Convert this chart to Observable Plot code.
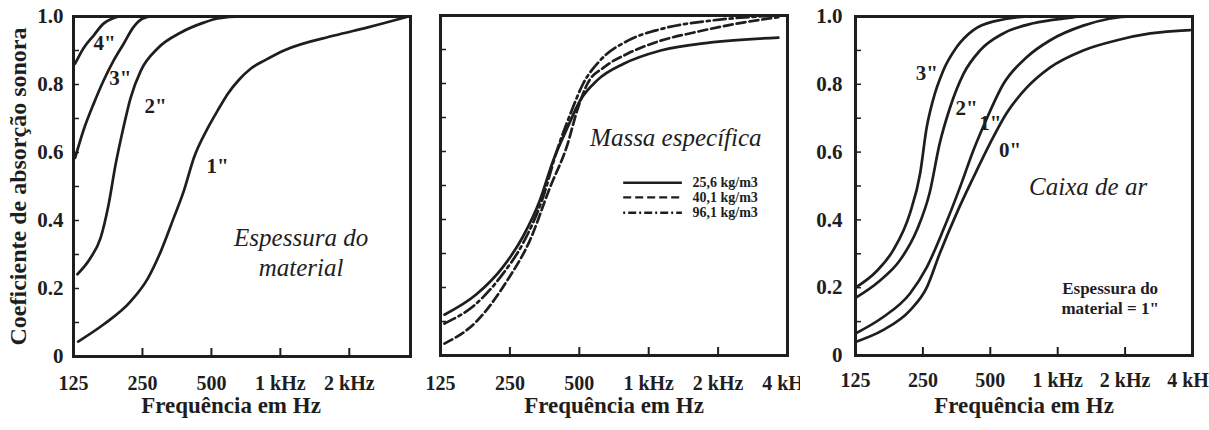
<!DOCTYPE html>
<html>
<head>
<meta charset="utf-8">
<script src="https://cdn.jsdelivr.net/npm/d3@7"></script>
<script src="https://cdn.jsdelivr.net/npm/@observablehq/plot@0.6"></script>
<style>
  html, body { margin: 0; padding: 0; background: #fff; }
  #wrap { position: relative; width: 1209px; height: 430px; overflow: hidden; background: #fff; }
  .panel { position: absolute; top: 0; overflow: hidden; }
  .panel svg { overflow: hidden; }
</style>
</head>
<body>
<div id="wrap">
  <div class="panel" id="p1" style="left:0px;width:415px;height:430px"></div>
  <div class="panel" id="p2" style="left:420px;width:380px;height:430px"></div>
  <div class="panel" id="p3" style="left:800px;width:409px;height:430px"></div>
</div>
<script>
// ---------- axis ticks ----------
const freqTicks = [125, 250, 500, 1000, 2000, 4000];
const freqTickLabels = ["125", "250", "500", "1 kHz", "2 kHz", "4 kHz"];
const freqInnerTicks = [250, 500, 1000, 2000];
const yLabelTicks = [0, 0.2, 0.4, 0.6, 0.8, 1.0];
const yLabelText = ["0", "0.2", "0.4", "0.6", "0.8", "1.0"];
const yMinorTicks = [0.1, 0.2, 0.3, 0.4, 0.5, 0.6, 0.7, 0.8, 0.9];

const yTitle = "Coeficiente de absorção sonora";
const xTitle = "Frequência em Hz";

// ---------- panel 1: Espessura do material ----------
const esp1 = [[131,0.044],[169,0.094],[222,0.162],[264,0.23],[301,0.31],[342,0.407],[379,0.487],[419,0.584],[483,0.673],[532,0.723],[590,0.773],[660,0.814],[744,0.847],[866,0.873],[1037,0.9],[1720,0.944],[2410,0.968],[3630,1.0]];
const esp2 = [[130,0.242],[148,0.289],[164,0.348],[178,0.448],[191,0.566],[205,0.664],[222,0.761],[246,0.841],[291,0.906],[368,0.953],[463,0.982],[532,0.994],[673,1.0],[3650,1.0]];
const esp3 = [[127,0.584],[138,0.664],[153,0.743],[169,0.811],[187,0.87],[207,0.92],[228,0.968],[251,0.994],[275,1.0],[3650,1.0]];
const esp4 = [[127,0.861],[138,0.906],[153,0.944],[169,0.979],[185,0.994],[200,1.0],[3650,1.0]];
const espLabels = ['1"', '2"', '3"', '4"'];
const espLabelPos = [[532,0.56],[285,0.735],[200,0.818],[171,0.92]];
const espNote = "Espessura do\nmaterial";
const espNotePos = [1232, 0.308];

// ---------- panel 2: Massa específica ----------
const massa256 = [[130,0.12],[179,0.18],[233,0.26],[285,0.35],[337,0.456],[385,0.573],[444,0.67],[504,0.75],[599,0.81],[779,0.858],[1127,0.897],[1864,0.921],[3650,0.935]];
const massa401 = [[130,0.035],[179,0.10],[243,0.22],[305,0.338],[373,0.494],[444,0.62],[489,0.72],[543,0.8],[638,0.847],[812,0.888],[1127,0.926],[1570,0.95],[2600,0.98],[3650,0.995]];
const massa961 = [[130,0.094],[179,0.153],[233,0.24],[285,0.33],[348,0.465],[400,0.603],[457,0.71],[520,0.8],[616,0.868],[812,0.926],[1127,0.96],[1864,0.985],[3650,1.0]];
const massaLegend = ["25,6 kg/m3", "40,1 kg/m3", "96,1 kg/m3"];
const massaLegendY = [0.508, 0.465, 0.42];
const massaLegendX = [779, 1400, 1549];
const massaNote = "Massa específica";
const massaNotePos = [1311, 0.64];

// ---------- panel 3: Caixa de ar ----------
const caixa3 = [[125,0.2],[156,0.25],[184,0.31],[219,0.42],[243,0.537],[260,0.673],[277,0.752],[308,0.84],[354,0.91],[420,0.96],[513,0.985],[779,1.0],[3950,1.0]];
const caixa2 = [[125,0.17],[160,0.22],[197,0.28],[235,0.37],[268,0.48],[297,0.625],[330,0.73],[379,0.83],[450,0.9],[571,0.95],[779,0.98],[1100,0.995],[1300,1.0],[3950,1.0]];
const caixa1 = [[125,0.065],[165,0.112],[219,0.183],[260,0.26],[308,0.37],[366,0.496],[420,0.605],[483,0.70],[571,0.8],[727,0.88],[926,0.93],[1300,0.973],[2170,1.0],[3950,1.0]];
const caixa0 = [[125,0.04],[165,0.074],[219,0.133],[260,0.2],[297,0.3],[354,0.42],[420,0.525],[498,0.625],[590,0.714],[727,0.79],[926,0.85],[1300,0.9],[1840,0.93],[2590,0.95],[3900,0.96]];
const caixaLabels = ['3"', '2"', '1"', '0"'];
const caixaLabelPos = [[260,0.832],[392,0.729],[500,0.684],[612,0.605]];
const caixaNote = "Caixa de ar";
const caixaNotePos = [1367, 0.496];
const caixaNote2 = 'Espessura do\nmaterial = 1"';
const caixaNote2Pos = [1715, 0.171];

// ---------- styling ----------
const INK = "#1e1e1e";
const SERIF = "Liberation Serif";
const lineStyle = {stroke: INK, strokeWidth: 2.7, curve: "monotone-x", x: d => d[0], y: d => d[1]};

function commonMarks(opts) {
  const m = [
    Plot.frame({stroke: INK, strokeWidth: 3}),
    Plot.axisX({ticks: freqInnerTicks, tickSize: -8, fill: "none", label: null, stroke: INK, strokeWidth: 2}),
    Plot.axisY({ticks: yMinorTicks, tickSize: -6, fill: "none", label: null, stroke: INK, strokeWidth: 1.5}),
    Plot.axisX({
      ticks: opts.xLabelTicks, tickSize: 0, tickPadding: opts.xPad, label: null,
      tickFormat: d => freqTickLabels[freqTicks.indexOf(d)],
      fontSize: 20, fontFamily: SERIF, fontWeight: "bold", fill: INK
    }),
    Plot.text([xTitle], {frameAnchor: "bottom", dy: opts.titleDy, dx: opts.titleDx || 0, fontSize: 23, fontFamily: SERIF, fontWeight: "bold", fill: INK})
  ];
  if (opts.yLabels) {
    m.push(Plot.axisY({
      ticks: yLabelTicks, tickSize: 0, tickPadding: opts.yPad, label: null,
      tickFormat: d => yLabelText[yLabelTicks.indexOf(d)],
      fontSize: 21, fontFamily: SERIF, fontWeight: "bold", fill: INK
    }));
  }
  return m;
}

// Panel 1
const plot1 = Plot.plot({
  width: 415, height: 430,
  marginLeft: 73, marginRight: 5, marginTop: 16, marginBottom: 74,
  x: {type: "log", domain: [125, 3700]},
  y: {domain: [0, 1]},
  style: {background: "transparent", color: INK},
  marks: [
    ...commonMarks({xLabelTicks: [125, 250, 500, 1000, 2000], yLabels: true, yPad: 10, titleDx: -11, titleDy: 56, xPad: 19}),
    Plot.line(esp1, lineStyle),
    Plot.line(esp2, lineStyle),
    Plot.line(esp3, lineStyle),
    Plot.line(esp4, lineStyle),
    Plot.text(espLabels, {x: (d, i) => espLabelPos[i][0], y: (d, i) => espLabelPos[i][1], text: d => d, fontSize: 21, fontFamily: SERIF, fontWeight: "bold", fill: INK}),
    Plot.text([espNote], {x: espNotePos[0], y: espNotePos[1], fontSize: 25, fontFamily: SERIF, fontStyle: "italic", fill: INK, lineHeight: 1.2}),
    Plot.text([yTitle], {frameAnchor: "left", textAnchor: "middle", rotate: -90, dx: -55, fontSize: 24, fontFamily: SERIF, fontWeight: "bold", fill: INK})
  ]
});
document.getElementById("p1").appendChild(plot1);

// Panel 2
const legendStyles = [
  {},
  {strokeDasharray: "8,4"},
  {strokeDasharray: "2,3,8,3"}
];
const plot2 = Plot.plot({
  width: 380, height: 430,
  marginLeft: 20, marginRight: 13, marginTop: 15, marginBottom: 75,
  x: {type: "log", domain: [125, 4000]},
  y: {domain: [0, 1]},
  style: {background: "transparent", color: INK},
  marks: [
    ...commonMarks({xLabelTicks: freqTicks, yLabels: false, titleDy: 57, xPad: 20}),
    Plot.line(massa256, lineStyle),
    Plot.line(massa401, {...lineStyle, strokeDasharray: "9,4"}),
    Plot.line(massa961, {...lineStyle, strokeDasharray: "12,4,3,4"}),
    ...massaLegend.map((lab, i) => Plot.ruleY([massaLegendY[i]], {x1: massaLegendX[0], x2: massaLegendX[1], stroke: INK, strokeWidth: 2.4, ...legendStyles[i]})),
    Plot.text(massaLegend, {x: massaLegendX[2], y: (d, i) => massaLegendY[i], text: d => d, textAnchor: "start", fontSize: 14, fontFamily: SERIF, fontWeight: "bold", fill: INK}),
    Plot.text([massaNote], {x: massaNotePos[0], y: massaNotePos[1], fontSize: 25, fontFamily: SERIF, fontStyle: "italic", fill: INK})
  ]
});
document.getElementById("p2").appendChild(plot2);

// Panel 3
const plot3 = Plot.plot({
  width: 409, height: 430,
  marginLeft: 55, marginRight: 17, marginTop: 16, marginBottom: 75,
  x: {type: "log", domain: [125, 4000]},
  y: {domain: [0, 1]},
  style: {background: "transparent", color: INK},
  marks: [
    ...commonMarks({xLabelTicks: freqTicks, yLabels: true, yPad: 13, titleDy: 57, xPad: 17}),
    Plot.line(caixa3, lineStyle),
    Plot.line(caixa2, lineStyle),
    Plot.line(caixa1, lineStyle),
    Plot.line(caixa0, lineStyle),
    Plot.text(caixaLabels, {x: (d, i) => caixaLabelPos[i][0], y: (d, i) => caixaLabelPos[i][1], text: d => d, fontSize: 21, fontFamily: SERIF, fontWeight: "bold", fill: INK}),
    Plot.text([caixaNote], {x: caixaNotePos[0], y: caixaNotePos[1], fontSize: 25, fontFamily: SERIF, fontStyle: "italic", fill: INK}),
    Plot.text([caixaNote2], {x: caixaNote2Pos[0], y: caixaNote2Pos[1], fontSize: 17, fontFamily: SERIF, fontWeight: "bold", fill: INK, lineHeight: 1.2})
  ]
});
document.getElementById("p3").appendChild(plot3);
</script>
</body>
</html>
